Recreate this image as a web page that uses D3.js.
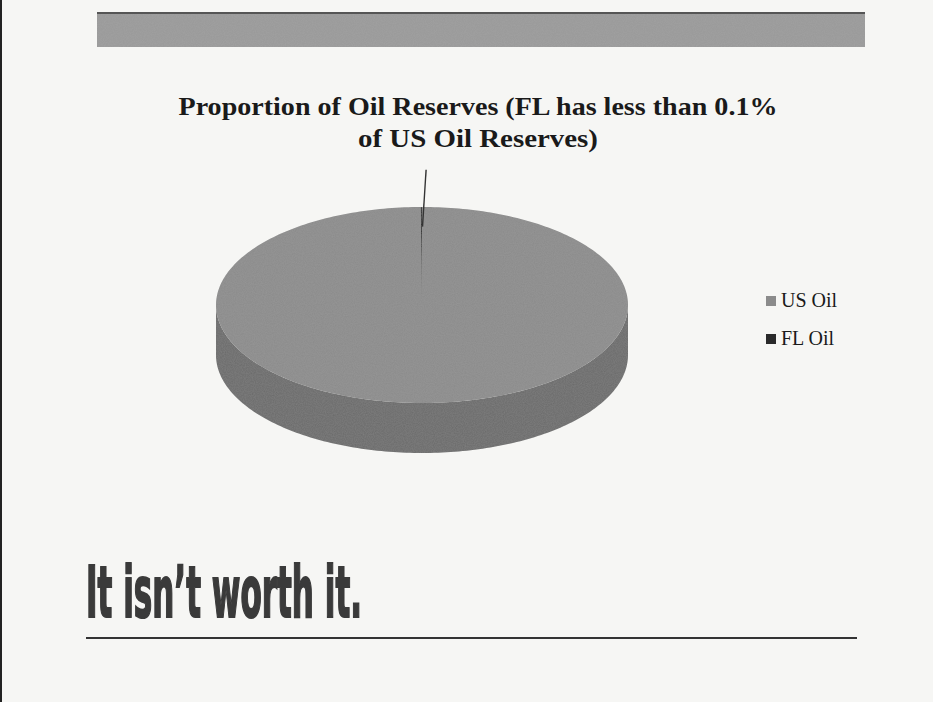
<!DOCTYPE html>
<html><head><meta charset="utf-8">
<script src="https://cdn.jsdelivr.net/npm/d3@7"></script>
<style>html,body{margin:0;padding:0;background:#f6f6f4;}svg{display:block;}</style>
</head><body>
<svg id="chart" width="933" height="702"></svg>
<script>
const categories = ["US Oil", "FL Oil"];
const values = [99.9, 0.1];
const titleLines = ["Proportion of Oil Reserves (FL has less than 0.1%", "of US Oil Reserves)"];
const slogan = "It isn\u2019t worth it.";

const svg = d3.select("#chart");
const W = 933, H = 702;

// paper-like noise
const defs = svg.append("defs");
const f = defs.append("filter").attr("id","grain").attr("x",0).attr("y",0).attr("width","100%").attr("height","100%");
f.append("feTurbulence").attr("type","fractalNoise").attr("baseFrequency",0.9).attr("numOctaves",2).attr("seed",3).attr("result","n");
f.append("feColorMatrix").attr("in","n").attr("type","matrix")
 .attr("values","0 0 0 0 0.5  0 0 0 0 0.5  0 0 0 0 0.5  0 0 0 0.18 0").attr("result","g");
f.append("feComposite").attr("in","g").attr("in2","SourceGraphic").attr("operator","in").attr("result","g2");
f.append("feMerge").selectAll("feMergeNode").data(["SourceGraphic","g2"]).enter().append("feMergeNode").attr("in",d=>d);

svg.append("rect").attr("width",W).attr("height",H).attr("fill","#f6f6f4");
svg.append("rect").attr("x",0).attr("y",0).attr("width",2).attr("height",H).attr("fill","#222");

// top banner
svg.append("rect").attr("x",97).attr("y",13).attr("width",768).attr("height",34).attr("fill","#9a9a9a").attr("filter","url(#grain)");
svg.append("line").attr("x1",97).attr("x2",865).attr("y1",13).attr("y2",13).attr("stroke","#555").attr("stroke-width",2);

// title
const titleWidths = [599, 240];
svg.append("g").selectAll("text").data(titleLines).enter().append("text")
  .attr("x",478).attr("y",(d,i)=>115+i*32).attr("text-anchor","middle")
  .attr("font-family","Liberation Serif, 'Times New Roman', serif").attr("font-weight","bold")
  .attr("font-size",26).attr("fill","#1a1a1a")
  .attr("textLength",(d,i)=>titleWidths[i]).attr("lengthAdjust","spacingAndGlyphs")
  .text(d=>d);

// 3D pie
const cx = 422, cy = 305, rx = 206, ry = 98, depth = 50;
const colorTop = d3.scaleOrdinal().domain(categories).range(["#8b8b8b","#2a2a2a"]);
const colorSide = d3.scaleOrdinal().domain(categories).range(["#6a6a6a","#1a1a1a"]);
const pie = d3.pie().sort(null).value(d=>d.v);
const arcs = pie(categories.map((c,i)=>({c, v:values[i]})));
const P = (a, r=1, dy=0) => [cx + rx*r*Math.sin(a), cy - ry*r*Math.cos(a) + dy];

function sliceTop(d){
  const n = Math.max(2, Math.ceil((d.endAngle-d.startAngle)/0.02));
  const pts = [[cx,cy]];
  for(let k=0;k<=n;k++){ pts.push(P(d.startAngle + (d.endAngle-d.startAngle)*k/n)); }
  return d3.line()(pts) + "Z";
}
function sliceSide(d){
  const a0 = Math.max(d.startAngle, Math.PI/2), a1 = Math.min(d.endAngle, 3*Math.PI/2);
  if (a1 <= a0) return null;
  const n = Math.ceil((a1-a0)/0.02);
  const top = [], bot = [];
  for(let k=0;k<=n;k++){ const a = a0+(a1-a0)*k/n; top.push(P(a)); bot.push(P(a,1,depth)); }
  return d3.line()(top.concat(bot.reverse())) + "Z";
}
const g = svg.append("g");
g.selectAll("path.side").data(arcs).enter().append("path").attr("class","side")
  .attr("d", d=>sliceSide(d)).attr("fill", d=>colorSide(d.data.c)).attr("filter","url(#grain)");
g.selectAll("path.top").data(arcs).enter().append("path").attr("class","top")
  .attr("d", d=>sliceTop(d)).attr("fill", d=>colorTop(d.data.c)).attr("filter","url(#grain)");

// leader line for the tiny slice
const fl = arcs[1];
const mid = (fl.startAngle + fl.endAngle)/2;
g.append("line")
  .attr("x1", P(mid,0.80)[0]+1).attr("y1", P(mid,0.80)[1])
  .attr("x2", P(mid,1.38)[0]+5).attr("y2", P(mid,1.38)[1])
  .attr("stroke","#333").attr("stroke-width",1.4);

// legend
const lg = svg.append("g").selectAll("g").data(categories).enter().append("g")
  .attr("transform",(d,i)=>`translate(766,${307+i*38})`);
lg.append("rect").attr("x",0).attr("y",-11).attr("width",10).attr("height",10).attr("fill",d=>colorTop(d));
lg.append("text").attr("x",15).attr("y",0).attr("font-family","Liberation Serif, 'Times New Roman', serif")
  .attr("font-size",20).attr("fill","#1a1a1a").text(d=>d);

// slogan
svg.append("text").attr("x",86).attr("y",617)
  .attr("font-family","'DejaVu Sans Condensed','Liberation Sans Narrow',sans-serif").attr("font-weight","bold")
  .attr("font-size",72).attr("fill","#3a3a3a").attr("stroke","#3a3a3a").attr("stroke-width",2)
  .attr("textLength",276).attr("lengthAdjust","spacingAndGlyphs")
  .text(slogan);
svg.append("line").attr("x1",86).attr("x2",857).attr("y1",638).attr("y2",638).attr("stroke","#333").attr("stroke-width",2);
</script>
</body></html>
